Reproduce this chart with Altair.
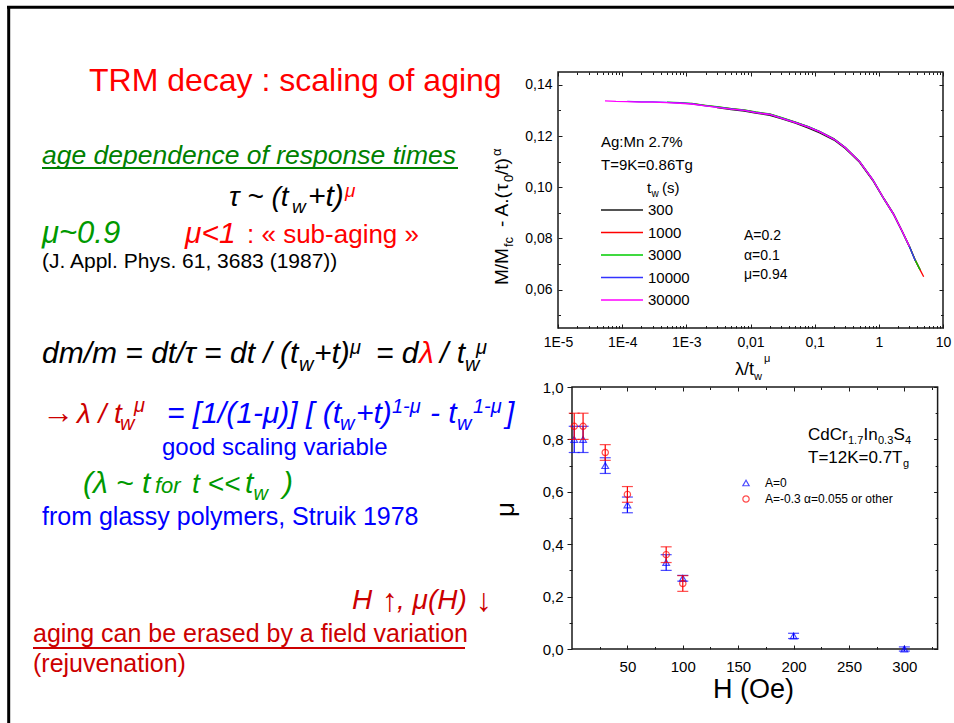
import json
import altair as alt
import pandas as pd

W, H = 954, 723
FONT = "Liberation Sans"

# ---------------- top panel data: TRM decay vs lambda/tw^mu ----------------
lam_grid = [5.4e-5, 8e-5, 1.2e-4, 2e-4, 3e-4, 5e-4, 8e-4, 1.2e-3, 2e-3, 3e-3,
            5e-3, 8e-3, 0.012, 0.02, 0.03, 0.05, 0.08, 0.12, 0.2, 0.3,
            0.5, 0.8, 1.2, 1.7, 2.3, 3.0, 3.7, 4.4, 5.0]
tw_labels = ["300", "1000", "3000", "10000", "30000"]
tw_colors = ["#1a1a1a", "#ff0000", "#00cc00", "#3333ff", "#ff00ff"]
tw_start = [9, 7, 5, 2, 0]
m_300 = [.1311, .1303, .1297, .1289, .1281, .1268, .1250, .1231, .1212, .1184,
         .1151, .1097, .1027, .0953, .0893, .0827, .0767, .0714, .0677]
m_1000 = [.1327, .1319, .1314, .1307, .1301, .1293, .1285, .1272, .1254, .1236,
          .1217, .1189, .1155, .1101, .1031, .0956, .0896, .0830, .0769, .0715,
          .0677, .0650]
m_3000 = [.1332, .1330, .1327, .1320, .1315, .1307, .1302, .1294, .1286, .1273,
          .1254, .1237, .1217, .1189, .1155, .1101, .1030, .0955, .0895, .0829,
          .0768, .0715, .0677]
m_10000 = [.1335, .1333, .1333, .1331, .1329, .1326, .1318, .1313, .1306, .1300,
           .1292, .1284, .1271, .1253, .1236, .1217, .1188, .1155, .1101, .1031,
           .0955, .0895, .0829, .0768, .0713]
m_30000 = [.1337, .1335, .1334, .1332, .1332, .1330, .1328, .1325, .1318, .1312,
           .1305, .1300, .1291, .1284, .1270, .1252, .1235, .1216, .1187, .1154,
           .1100, .1030, .0955, .0894, .0829, .0768]
tw_values = [m_300, m_1000, m_3000, m_10000, m_30000]

top_x_ticks = [1e-5, 1e-4, 1e-3, 0.01, 0.1, 1, 10]
top_x_labels = ["1E-5", "1E-4", "1E-3", "0,01", "0,1", "1", "10"]
top_x_minor = [m * 10.0 ** e for e in range(-5, 1) for m in range(2, 10)]
top_y_ticks = [0.06, 0.08, 0.10, 0.12, 0.14]
top_y_minor = [0.05, 0.07, 0.09, 0.11, 0.13]
top_xdom = [1e-5, 10]
top_ydom = [0.045, 0.145]

# ---------------- bottom panel data: mu(H) ----------------
h_tri = [2, 10, 30, 50, 85, 100, 200, 300]
mu_tri = [0.80, 0.80, 0.70, 0.55, 0.33, 0.27, 0.05, 0.00]
err_tri = [0.05, 0.05, 0.03, 0.03, 0.03, 0.011, 0.01, 0.008]
h_circ = [2, 10, 30, 50, 85, 100]
mu_circ = [0.85, 0.85, 0.75, 0.59, 0.36, 0.25]
err_circ = [0.05, 0.05, 0.03, 0.03, 0.03, 0.03]
bot_x_ticks = [50, 100, 150, 200, 250, 300]
bot_x_minor = [25, 75, 125, 175, 225, 275, 325]
bot_y_ticks = [0.0, 0.2, 0.4, 0.6, 0.8, 1.0]
bot_y_minor = [0.1, 0.3, 0.5, 0.7, 0.9]
bot_xdom = [0, 330]
bot_ydom = [0.0, 1.0]
leg2_labels = ["A=0", "A=-0.3 \u03b1=0.055 or other"]
leg2_shapes = ["triangle-up", "circle"]
leg2_colors = ["#0000ff", "#ff0000"]

# ---------------- layout (pixels) ----------------
TOP_X = [558, 943]
TOP_Y = [328, 72]
BOT_X = [572, 937.6]
BOT_Y = [649, 387]

RED = "#ff0000"
DRED = "#cc0000"
BLUE = "#0000ff"
GREEN = "#008000"
LGREEN = "#009900"
BLACK = "#000000"


def lin(dom, rng):
    return alt.Scale(type="linear", domain=dom, range=rng, nice=False, zero=False)


def logs(dom, rng):
    return alt.Scale(type="log", domain=dom, range=rng, nice=False)


def txs():
    return logs(top_xdom, TOP_X)


def tys():
    return lin(top_ydom, TOP_Y)


def bxs():
    return lin(bot_xdom, BOT_X)


def bys():
    return lin(bot_ydom, BOT_Y)


def offset_for(orient, edge, tick, inward):
    if orient == "bottom":
        return (edge - tick if inward else edge) - H
    if orient == "top":
        return -(edge + tick if inward else edge)
    if orient == "left":
        return -(edge + tick if inward else edge)
    return (edge - tick if inward else edge) - W


def ax(orient, values, edge, tick, inward=True, expr=None, size=14, pad=5, labels=False):
    d = dict(orient=orient, values=values, tickSize=tick, tickColor="#1a1a1a",
             tickWidth=1, domain=False, grid=False, labels=labels, title=None,
             offset=offset_for(orient, edge, tick, inward))
    if labels:
        d.update(labelFont=FONT, labelFontSize=size, labelColor="black",
                 labelPadding=pad, labelFlush=False, labelOverlap=False)
        if expr:
            d["labelExpr"] = expr
    return alt.Axis(**d)


def frame(xdom, ydom, xsc, ysc, xaxis, yaxis, visible):
    df = pd.DataFrame({"x0": [xdom[0]], "x1": [xdom[1]], "y0": [ydom[0]], "y1": [ydom[1]]})
    return alt.Chart(df).mark_rect(
        fillOpacity=0, stroke="#1a1a1a", strokeWidth=1.5,
        strokeOpacity=1 if visible else 0
    ).encode(
        x=alt.X("x0:Q", scale=xsc, axis=xaxis), x2="x1:Q",
        y=alt.Y("y0:Q", scale=ysc, axis=yaxis), y2="y1:Q",
    )


layers = []

# ---------------- top panel ----------------
tx_expr = json.dumps(top_x_labels) + "[round(log(datum.value)/LN10)+5]"
ty_expr = "replace(format(datum.value, '.2f'), '.', ',')"
layers.append(frame(top_xdom, top_ydom, txs(), tys(),
                    ax("top", top_x_ticks, TOP_Y[1], 4),
                    ax("right", top_y_ticks, TOP_X[1], 4), True))
layers.append(frame(top_xdom, top_ydom, txs(), tys(),
                    ax("bottom", top_x_minor, TOP_Y[0], 2.5),
                    ax("left", top_y_minor, TOP_X[0], 2.5), False))
layers.append(frame(top_xdom, top_ydom, txs(), tys(),
                    ax("top", top_x_minor, TOP_Y[1], 2.5),
                    ax("right", top_y_minor, TOP_X[1], 2.5), False))

for i, (lab, col, st, vals) in enumerate(zip(tw_labels, tw_colors, tw_start, tw_values)):
    df = pd.DataFrame({"lam": lam_grid[st:st + len(vals)], "m": vals})
    if i == 0:
        xa = ax("bottom", top_x_ticks, TOP_Y[0], 4, expr=tx_expr, size=14, pad=7, labels=True)
        ya = ax("left", top_y_ticks, TOP_X[0], 4, expr=ty_expr, size=14, pad=6, labels=True)
    else:
        xa = None
        ya = None
    layers.append(alt.Chart(df).mark_line(color=col, strokeWidth=1.3).encode(
        x=alt.X("lam:Q", scale=txs(), axis=xa),
        y=alt.Y("m:Q", scale=tys(), axis=ya),
    ))

# top legend
leg1 = pd.DataFrame({"tw": tw_labels, "color": tw_colors})
leg1_y = alt.Y("tw:N", scale=alt.Scale(type="point", domain=tw_labels, range=[210, 300], padding=0), axis=None)
layers.append(alt.Chart(leg1).mark_rule(strokeWidth=1.3).encode(
    x=alt.value(601), x2=alt.value(643), y=leg1_y,
    color=alt.Color("color:N", scale=None, legend=None)))
layers.append(alt.Chart(leg1).mark_text(align="left", baseline="middle", font=FONT, fontSize=15, color="black").encode(
    x=alt.value(648), y=leg1_y, text="tw:N"))

# ---------------- bottom panel ----------------
by_expr = "replace(format(datum.value, '.1f'), '.', ',')"
layers.append(frame(bot_xdom, bot_ydom, bxs(), bys(),
                    ax("top", bot_x_ticks, BOT_Y[1], 4),
                    ax("right", bot_y_ticks, BOT_X[1], 4), True))
layers.append(frame(bot_xdom, bot_ydom, bxs(), bys(),
                    ax("bottom", bot_x_minor, BOT_Y[0], 2.5),
                    ax("left", bot_y_minor, BOT_X[0], 3, inward=False), False))
layers.append(frame(bot_xdom, bot_ydom, bxs(), bys(),
                    ax("top", bot_x_minor, BOT_Y[1], 2.5),
                    ax("right", bot_y_minor, BOT_X[1], 2.5), False))

series = [
    (h_tri, mu_tri, err_tri, "#0000ff", "triangle-up", 45),
    (h_circ, mu_circ, err_circ, "#ff0000", "circle", 40),
]
for k, (hh, mm, ee, col, shp, sz) in enumerate(series):
    df = pd.DataFrame({"H": hh, "mu": mm, "err": ee})
    base = alt.Chart(df).transform_calculate(lo="datum.mu - datum.err", hi="datum.mu + datum.err")
    layers.append(base.mark_rule(color=col, strokeWidth=1.2).encode(
        x=alt.X("H:Q", scale=bxs(), axis=None),
        y=alt.Y("lo:Q", scale=bys(), axis=None), y2="hi:Q"))
    layers.append(base.transform_fold(["lo", "hi"], as_=["k", "v"]).mark_tick(
        orient="horizontal", size=11, thickness=1.2, color=col).encode(
        x=alt.X("H:Q", scale=bxs(), axis=None),
        y=alt.Y("v:Q", scale=bys(), axis=None)))
    if k == 0:
        xa = ax("bottom", bot_x_ticks, BOT_Y[0], 4, size=15, pad=10, labels=True)
        ya = ax("left", bot_y_ticks, BOT_X[0], 5, inward=False, expr=by_expr, size=15, pad=4, labels=True)
    else:
        xa = None
        ya = None
    layers.append(alt.Chart(df).mark_point(shape=shp, filled=False, size=sz, strokeWidth=1.2, color=col).encode(
        x=alt.X("H:Q", scale=bxs(), axis=xa),
        y=alt.Y("mu:Q", scale=bys(), axis=ya)))

# bottom legend
leg2 = pd.DataFrame({"lab": leg2_labels, "shape": leg2_shapes, "color": leg2_colors})
leg2_y = alt.Y("lab:N", scale=alt.Scale(type="point", domain=leg2_labels, range=[483, 499], padding=0), axis=None)
layers.append(alt.Chart(leg2).mark_point(filled=False, size=40, strokeWidth=1.2).encode(
    x=alt.value(746), y=leg2_y,
    shape=alt.Shape("shape:N", scale=None, legend=None),
    color=alt.Color("color:N", scale=None, legend=None)))
layers.append(alt.Chart(leg2).mark_text(align="left", baseline="middle", font=FONT, fontSize=12, color="black").encode(
    x=alt.value(765), y=leg2_y, text="lab:N"))

# ---------------- slide decorations: border and underlines ----------------
rules = pd.DataFrame([
    # x, x2, y, y2, color, width
    (8.7, 8.7, 6, 723, "#000000", 3),
    (7, 954, 7.2, 7.2, "#000000", 3),
    (42, 458, 168, 168, GREEN, 2),
    (33, 465, 648, 648, DRED, 2),
], columns=["x", "x2", "y", "y2", "color", "w"])
layers.append(alt.Chart(rules).mark_rule().encode(
    x=alt.X("x:Q", scale=None, axis=None), x2="x2:Q",
    y=alt.Y("y:Q", scale=None, axis=None), y2="y2:Q",
    color=alt.Color("color:N", scale=None, legend=None),
    strokeWidth=alt.StrokeWidth("w:Q", scale=None, legend=None)))

# ---------------- slide text ----------------
# text, x, y, size, color, italic, angle
texts = [
    ("TRM decay : scaling of aging", 89, 91, 32, RED, False, 0),
    ("age dependence of response times", 42, 164, 26.5, GREEN, True, 0),
    ("\u03c4 ~ (t", 229, 206, 28, BLACK, True, 0),
    ("w", 292, 213, 19, BLACK, True, 0),
    ("+t)", 308, 206, 30, BLACK, True, 0),
    ("\u03bc", 345, 197, 19, RED, True, 0),
    ("\u03bc~0.9", 42, 243, 31, LGREEN, True, 0),
    ("\u03bc<1", 185, 243, 30, RED, True, 0),
    (": \u00ab sub-aging \u00bb", 247, 243, 26, RED, False, 0),
    ("(J. Appl. Phys. 61, 3683 (1987))", 42, 268, 21, BLACK, False, 0),
    ("dm/m = dt/\u03c4 = dt / (t", 42, 363, 30, BLACK, True, 0),
    ("w", 299, 371, 20, BLACK, True, 0),
    ("+t)", 314, 363, 30, BLACK, True, 0),
    ("\u03bc", 350, 354, 20, BLACK, True, 0),
    ("= d", 376, 363, 30, BLACK, True, 0),
    ("\u03bb", 419, 363, 30, RED, True, 0),
    ("/ t", 440, 363, 30, BLACK, True, 0),
    ("w", 465, 371, 20, BLACK, True, 0),
    ("\u03bc", 476, 354, 20, BLACK, True, 0),
    ("\u2192", 42, 423, 32, DRED, False, 0),
    ("\u03bb / t", 77, 423, 28, DRED, True, 0),
    ("w", 120, 430, 20, DRED, True, 0),
    ("\u03bc", 134, 412, 20, DRED, True, 0),
    ("= [1/(1-\u03bc)] [ (t", 167, 423, 30, BLUE, True, 0),
    ("w", 340, 430, 20, BLUE, True, 0),
    ("+t)", 356, 423, 30, BLUE, True, 0),
    ("1-\u03bc", 392, 413, 20, BLUE, True, 0),
    ("- t", 430, 423, 30, BLUE, True, 0),
    ("w", 457, 430, 20, BLUE, True, 0),
    ("1-\u03bc", 473, 413, 20, BLUE, True, 0),
    ("]", 506, 423, 30, BLUE, True, 0),
    ("good scaling variable", 162, 455, 24, BLUE, False, 0),
    ("(\u03bb ~ t", 83, 493, 30, LGREEN, True, 0),
    ("for", 155, 493, 22, LGREEN, True, 0),
    ("t <<", 192, 493, 28, LGREEN, True, 0),
    ("t", 245, 493, 30, LGREEN, True, 0),
    ("w", 253.5, 500, 20, LGREEN, True, 0),
    (")", 283, 493, 30, LGREEN, True, 0),
    ("from glassy polymers, Struik 1978", 42, 525, 25, BLUE, False, 0),
    ("H", 352, 609, 28, DRED, True, 0),
    ("\u2191", 382, 611, 32, DRED, False, 0),
    (", \u03bc(H)", 397, 609, 28, DRED, True, 0),
    ("\u2193", 476, 611, 32, DRED, False, 0),
    ("aging can be erased by a field variation", 33, 642, 25, DRED, False, 0),
    ("(rejuvenation)", 33, 672, 25, DRED, False, 0),
    # top panel annotations
    ("Ag:Mn 2.7%", 601, 147, 15, BLACK, False, 0),
    ("T=9K=0.86Tg", 601, 170, 15, BLACK, False, 0),
    ("t", 647, 193, 15, BLACK, False, 0),
    ("w", 651.5, 197, 10, BLACK, False, 0),
    ("(s)", 662, 193, 15, BLACK, False, 0),
    ("A=0.2", 744, 240, 14, BLACK, False, 0),
    ("\u03b1=0.1", 744, 260, 14, BLACK, False, 0),
    ("\u03bc=0.94", 744, 279, 14, BLACK, False, 0),
    ("M/M", 508, 285, 19, BLACK, False, 270),
    ("fc", 513, 247, 13, BLACK, False, 270),
    ("- A.(", 508, 227, 19, BLACK, False, 270),
    ("\u03c4", 508, 191, 19, BLACK, False, 270),
    ("0", 513, 182, 13, BLACK, False, 270),
    ("/t)", 508, 175, 19, BLACK, False, 270),
    ("\u03b1", 501, 156, 13, BLACK, False, 270),
    ("\u03bb/t", 735, 375, 18, BLACK, False, 0),
    ("w", 754, 380, 11, BLACK, False, 0),
    ("\u03bc", 764, 362, 11, BLACK, False, 0),
    # bottom panel annotations
    ("CdCr", 808, 440, 17, BLACK, False, 0),
    ("1.7", 848, 444, 11, BLACK, False, 0),
    ("In", 863.5, 440, 17, BLACK, False, 0),
    ("0.3", 878, 444, 11, BLACK, False, 0),
    ("S", 893.5, 440, 17, BLACK, False, 0),
    ("4", 905, 444, 11, BLACK, False, 0),
    ("T=12K=0.7T", 808, 463, 17, BLACK, False, 0),
    ("g", 903, 467, 11, BLACK, False, 0),
    ("H (Oe)", 713, 698, 27, BLACK, False, 0),
    ("\u03bc", 514, 517, 26, BLACK, False, 270),
]
tdf = pd.DataFrame(texts, columns=["text", "x", "y", "size", "color", "italic", "angle"])
for it in (False, True):
    sub = tdf[tdf["italic"] == it].drop(columns=["italic"])
    layers.append(alt.Chart(sub).mark_text(
        align="left", baseline="alphabetic", font=FONT,
        fontStyle="italic" if it else "normal").encode(
        x=alt.X("x:Q", scale=None, axis=None),
        y=alt.Y("y:Q", scale=None, axis=None),
        text="text:N",
        size=alt.Size("size:Q", scale=None, legend=None),
        color=alt.Color("color:N", scale=None, legend=None),
        angle=alt.Angle("angle:Q", scale=None)))

chart = alt.layer(*layers).resolve_scale(
    x="independent", y="independent"
).properties(
    width=W, height=H, padding=0,
    autosize=alt.AutoSizeParams(type="none"),
    background="white",
).configure_view(stroke=None)

chart.save("out.html", embed_options={"renderer": "svg", "actions": False})
